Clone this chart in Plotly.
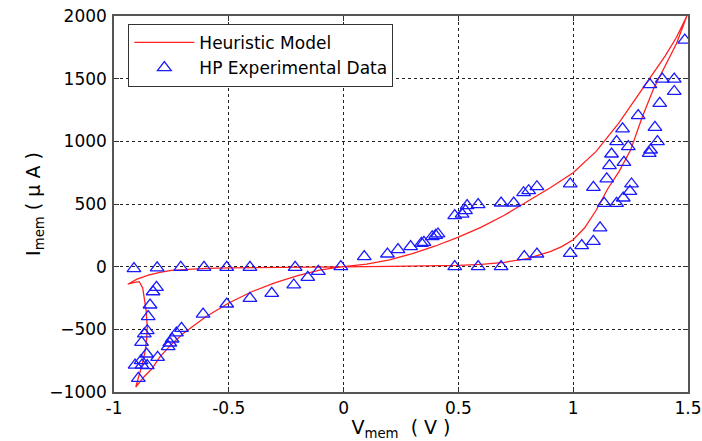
import plotly.graph_objects as go

# Heuristic memristor model: pinched hysteresis loop, traced in drive order
v_model = [0.0, 0.1, 0.2, 0.3, 0.4, 0.5, 0.6, 0.7, 0.8, 0.9, 1.0, 1.1, 1.2, 1.3, 1.35, 1.4, 1.45, 1.495,
           1.45, 1.4, 1.35, 1.3, 1.25, 1.2, 1.15, 1.1, 1.05, 1.0, 0.95, 0.9, 0.8, 0.7, 0.6, 0.5, 0.4, 0.3, 0.2, 0.1, 0.0,
           -0.1, -0.2, -0.3, -0.4, -0.5, -0.6, -0.7, -0.75, -0.8, -0.85, -0.9, -0.94, -0.915, -0.89,
           -0.875, -0.867, -0.86, -0.855, -0.858, -0.865, -0.877, -0.89, -0.9, -0.905,
           -0.87, -0.836, -0.8, -0.75, -0.7, -0.6, -0.5, -0.4, -0.3, -0.2, -0.1, 0.0]
i_model = [0, 20, 55, 105, 165, 235, 315, 410, 520, 630, 750, 920, 1150, 1410, 1550, 1680, 1830, 2000,
           1780, 1600, 1420, 1190, 930, 760, 620, 450, 310, 215, 160, 120, 65, 35, 18, 10, 6, 3, 2, 1, 0,
           -1, -3, -5, -7, -10, -14, -22, -30, -45, -68, -100, -140, -128, -120,
           -170, -250, -350, -480, -580, -680, -780, -860, -920, -960,
           -880, -817, -720, -620, -535, -400, -290, -200, -130, -72, -25, 0]

# HP experimental measurements
v_data = [-0.913, -0.812, -0.709, -0.608, -0.509, -0.408, -0.211, -0.012,
          -0.815, -0.83, -0.843, -0.851, -0.855, -0.868, -0.88, -0.858, -0.882, -0.908, -0.878, -0.855, -0.894,
          -0.81, -0.764, -0.757, -0.747, -0.728, -0.706, -0.612, -0.509, -0.408, -0.313, -0.217, -0.156, -0.11,
          0.09, 0.191, 0.237, 0.292, 0.339, 0.35, 0.386, 0.401, 0.411, 0.484, 0.516, 0.531, 0.538, 0.586,
          0.686, 0.741, 0.784, 0.806, 0.842,
          0.484, 0.586, 0.686, 0.787, 0.842, 0.987, 1.037, 1.088, 1.117,
          0.987, 1.088, 1.135, 1.189, 1.146, 1.218, 1.247, 1.254, 1.158, 1.167, 1.221, 1.189, 1.24, 1.215,
          1.283, 1.331, 1.337, 1.367, 1.356, 1.377, 1.334, 1.388, 1.44, 1.44, 1.486]
i_data = [-15, -10, -5, -5, -5, -5, -5, 0,
          -165, -200, -306, -399, -511, -537, -604, -697, -750, -785, -785, -790, -891,
          -724, -638, -609, -577, -529, -492, -378, -298, -253, -213, -146, -85, -37,
          80, 101, 136, 160, 186, 194, 239, 250, 261, 407, 420, 447, 487, 495,
          508, 508, 590, 606, 638,
          0, 0, 0, 80, 101, 106, 168, 202, 309,
          660, 633, 505, 505, 700, 548, 601, 660, 806, 899, 832, 998, 958, 1099,
          1205, 904, 931, 998, 1112, 1303, 1452, 1497, 1497, 1398, 1808]

x_ticks = [-1, -0.5, 0, 0.5, 1, 1.5]
x_tick_text = ["-1", "-0.5", "0", "0.5", "1", "1.5"]
y_ticks = [-1000, -500, 0, 500, 1000, 1500, 2000]

FONT = "DejaVu Sans"

fig = go.Figure()
fig.add_trace(go.Scatter(
    x=v_model, y=i_model, mode="lines", name="Heuristic Model",
    line=dict(color="#ff2020", width=1.3),
))
fig.add_trace(go.Scatter(
    x=v_data, y=i_data, mode="markers", name="HP Experimental Data",
    marker=dict(symbol="triangle-up-open", size=12, color="#1a1aff",
                line=dict(width=1.3, color="#1a1aff")),
))

axis_common = dict(
    showline=True, linecolor="#555555", linewidth=1.5, mirror="ticks",
    ticks="inside", ticklen=5, tickcolor="#333333",
    showgrid=True, gridcolor="#222222", griddash="3px,3px", gridwidth=1,
    zeroline=False, automargin=False, ticklabeloverflow="allow",
    tickfont=dict(family=FONT, size=17, color="black"),
)

fig.update_xaxes(
    range=[-1, 1.5], tickvals=x_ticks, ticktext=x_tick_text,
    ticklabelstandoff=0,
    title=dict(text="V<sub>mem</sub>  ( V )", font=dict(family=FONT, size=19, color="black"), standoff=6),
    **axis_common,
)
fig.update_yaxes(
    range=[-1000, 2000], tickvals=y_ticks,
    ticklabelstandoff=2,
    title=dict(text="I<sub>mem</sub> ( μ A )", font=dict(family=FONT, size=19, color="black"), standoff=4),
    **axis_common,
)

fig.update_layout(
    width=702, height=441,
    margin=dict(l=114, r=14, t=16, b=49),
    paper_bgcolor="white", plot_bgcolor="white",
    showlegend=True,
    legend=dict(
        x=0.025, y=0.979, xanchor="left", yanchor="top",
        bgcolor="white", bordercolor="#333333", borderwidth=1,
        font=dict(family=FONT, size=17, color="black"),
        itemwidth=60, tracegroupgap=0,
    ),
)

fig.write_html("out.html")
